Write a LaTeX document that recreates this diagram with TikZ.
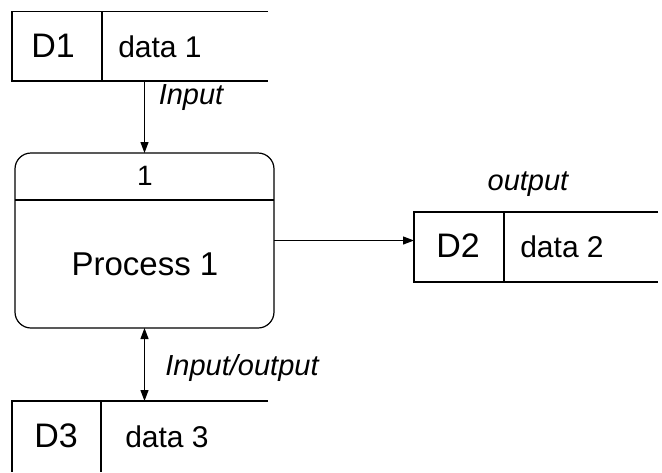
\documentclass[tikz,border=0pt]{standalone}
\usepackage{fontspec}
\setmainfont{Liberation Sans}
\usetikzlibrary{arrows.meta}
\begin{document}
\begin{tikzpicture}[x=1pt,y=-1pt,line width=1.2pt,
  store/.style={inner sep=0pt,outer sep=0pt},
  idtext/.style={font=\fontsize{34}{38}\selectfont,inner sep=0pt,anchor=base},
  datatext/.style={font=\fontsize{30}{34}\selectfont,inner sep=0pt,anchor=base},
  flowlabel/.style={font=\fontsize{29}{33}\selectfont\itshape,inner sep=0pt,anchor=base},
  procbox/.style={draw,rounded corners=16pt,inner sep=0pt,outer sep=0pt},
  tip/.tip={Triangle[length=11pt,width=8pt]},
  flow/.style={-tip},
  biflow/.style={tip-tip}]
\useasboundingbox (0,0) rectangle (662,472);

% data store D1
\node[store,minimum width=256pt,minimum height=69.3pt] (d1) at (140,46.35) {};
\draw (d1.north east) -- (d1.north west) -- (d1.south west) -- (d1.south east);
\draw (d1.north west) ++(90,0) -- ++(0,69.3);
\node[idtext] (d1id) at (53,57) {D1};
\node[datatext] (d1name) at (160,57) {data 1};

% process
\node[procbox,minimum width=259pt,minimum height=175pt] (p) at (144.5,240.5) {};
\draw (p.west |- 0,200) -- (p.east |- 0,200);
\node[font=\fontsize{28}{32}\selectfont,inner sep=0pt,anchor=base] (pnum) at (145,185) {1};
\node[font=\fontsize{33}{38}\selectfont,inner sep=0pt,anchor=base] (pname) at (145,275) {Process 1};

% data store D2
\node[store,minimum width=244pt,minimum height=70pt] (d2) at (536,247) {};
\draw (d2.north east) -- (d2.north west) -- (d2.south west) -- (d2.south east);
\draw (d2.north west) ++(90,0) -- ++(0,70);
\node[idtext] (d2id) at (458,257) {D2};
\node[datatext] (d2name) at (562,257) {data 2};

% data store D3
\node[store,minimum width=256pt,minimum height=71pt] (d3) at (140,436.5) {};
\draw (d3.north east) -- (d3.north west) -- (d3.south west);
\draw (d3.north west) ++(89,0) -- ++(0,71);
\node[idtext] (d3id) at (56,447) {D3};
\node[datatext] (d3name) at (167,447) {data 3};

% flows
\draw[flow] (d1.south -| p.north) -- (p.north);
\node[flowlabel] (lin) at (191,104) {Input};
\draw[flow] (p.east) -- (d2.west |- p.east);
\node[flowlabel] (lout) at (528,190) {output};
\draw[biflow] (p.south) -- (d3.north -| p.south);
\node[flowlabel] (lio) at (242,375) {Input/output};
\end{tikzpicture}
\end{document}
